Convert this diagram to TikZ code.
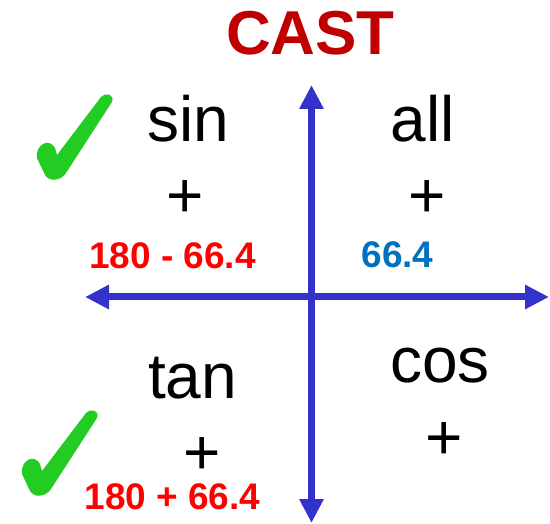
\documentclass[tikz,border=0pt]{standalone}
\usepackage{fontspec}
\setmainfont{Liberation Sans}
\usetikzlibrary{arrows.meta}
\definecolor{castred}{HTML}{C00000}
\definecolor{numred}{HTML}{FF0000}
\definecolor{numblue}{HTML}{0070C0}
\definecolor{axisblue}{HTML}{3333CC}
\definecolor{checkgreen}{HTML}{22CC22}
\tikzset{
  word/.style={anchor=base,inner sep=0pt,font=\fontsize{64}{64}\selectfont},
  plussign/.style={anchor=base,inner sep=0pt,font=\fontsize{64}{64}\selectfont},
  num/.style={anchor=base,inner sep=0pt,font=\fontsize{37}{37}\selectfont\bfseries},
  axis/.style={draw=axisblue,line width=7pt,
    {Triangle[length=24pt,width=23pt]}-{Triangle[length=24pt,width=23pt]}},
  checkmark/.pic={
    \fill[checkgreen] (37,158) .. controls (35,145) and (49,137) .. (55,148)
      -- (57,155) -- (101,97) .. controls (105,92) and (115,94) .. (112,102)
      -- (66,173) .. controls (61,181) and (48,183) .. (44,173) -- cycle;
  }
}
\begin{document}
\begin{tikzpicture}[x=1pt,y=-1pt]
\useasboundingbox (0,0) rectangle (550,524);
% axes
\coordinate (top) at (311.5,85);
\coordinate (bottom) at (311.5,523);
\coordinate (left) at (85,297);
\coordinate (right) at (549,297);
\draw[axis] (left) -- (right);
\draw[axis] (bottom) -- (top);
% title
\node[anchor=base,inner sep=0pt,text=castred,font=\fontsize{62}{62}\selectfont\bfseries] (title) at (310.5,55) {CAST};
% words
\node[word] (sin) at (188.5,142) {sin};
\node[word] (all) at (422.5,142) {all};
\node[word] (tan) at (192.5,399) {tan};
\node[word] (cos) at (440,383) {cos};
% plus signs
\node[plussign] (p1) at (185,218) {+};
\node[plussign] (p2) at (427.5,218) {+};
\node[plussign] (p3) at (202.5,475) {+};
\node[plussign] (p4) at (444.5,460) {+};
% numbers
\node[num,text=numred] (n1) at (172.5,269) {180 - 66.4};
\node[num,text=numblue] (n2) at (397.5,268) {66.4};
\node[num,text=numred] (n3) at (172.5,509) {180 + 66.4};
% checkmarks
\pic at (0,0) {checkmark};
\pic at (-15,316) {checkmark};
\end{tikzpicture}
\end{document}
